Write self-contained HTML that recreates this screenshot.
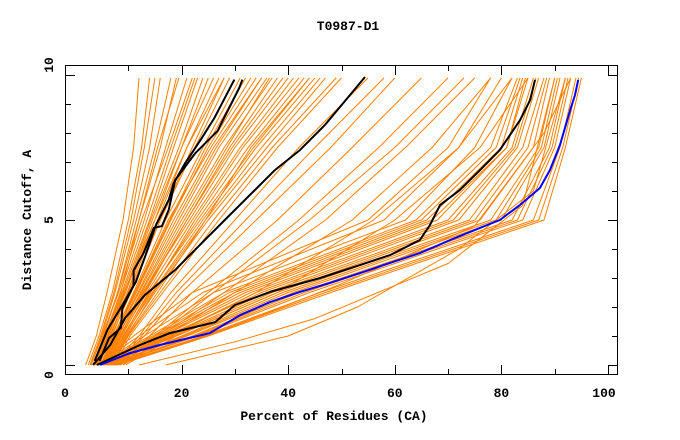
<!DOCTYPE html>
<html><head><meta charset="utf-8">
<style>
html,body{margin:0;padding:0;background:#fff;}
svg{display:block;}
text{font-family:"Liberation Mono","DejaVu Sans Mono",monospace;font-weight:bold;fill:#000;}
</style></head>
<body>
<svg id="chart" width="680" height="440" viewBox="0 0 680 440" xmlns="http://www.w3.org/2000/svg">
<text x="348" y="30" font-size="13" text-anchor="middle">T0987-D1</text>
<text x="334" y="420" font-size="13" text-anchor="middle">Percent of Residues (CA)</text>
<text transform="translate(31,220) rotate(-90)" font-size="13" text-anchor="middle">Distance Cutoff, A</text>
<g id="orange"></g>
<g id="highlight"></g>
<rect x="65.5" y="65.5" width="552" height="309" fill="none" stroke="#000" stroke-width="1"></rect>
<g id="ticks"></g>
</svg>
<script>
// shared y levels (Å) for fan-format orange lines
const levels = [0, 1, 2.5, 5, 7.5, 9.9];
// each row: percent of residues at each level
const orangeLines = [
[2,4,6,9,11,12],[2.5,4.5,7,10,12.5,14],[3,5,7.5,11,14,16],[3,5.2,8,12,16,19],[3.5,5.6,8.5,13,17,21],
[4,6,9,14,18.5,23],[4,6.2,9.5,14.5,20,25],[4.5,6.6,10,15.5,21,27],[4.5,6.8,10.5,16,22.5,29],[5,7.2,11,17,24,31],
[5,7.4,11.5,18,25,33],[5.5,7.8,12,19,26.5,35],[5.5,8,12.5,20,28,37],[6,8.4,13,21,29.5,39],[6,8.6,13.5,22,31,41],
[6.5,9,14,23,32.5,43],[6.5,9.2,14.5,24,34,45],[7,9.6,15,25,36,47],[7,10,16,26,37,49],[3,5.1,8.2,12.5,17.5,22],
[4,6.1,9.2,15,21,28],[5,7.3,11.2,17.5,25.5,34],[6,8.5,12.7,21.5,30,40],[7,9.8,14.7,24.5,35,46],
[2.8,4.8,7.3,10.5,13,15],[3.3,5.4,8,11.5,15,18],[3.8,5.8,8.8,13.5,18,22.5],[4.2,6.3,9.3,14.2,19.5,24],
[4.8,7,10.2,16,22,28],[5.2,7.5,11.3,17.8,24.5,32],[5.8,8.2,12.3,19.5,27,36],[6.2,8.8,13.2,21,29,38],
[6.8,9.4,14.2,22.5,31.5,42],[7.2,9.9,15.5,24.5,33,44],[7.5,10.3,16.5,27,38,50],[3.6,5.7,8.6,12,15.5,19.5],
[5.7,8,12.8,20.5,28.5,36.5],[6.4,9.1,13.8,23.5,33.5,44],[4.3,6.5,9.8,15,20,26],[5.3,7.6,11.8,18.5,26,35],
[7,12,18,30,42,55],[7.5,13,20,34,48,60],[8,14,22,38,52,65],[8,15,25,42,57,70],[8.5,16,28,47,62,75],
[9,17,30,52,67,78],[9,18,34,56,72,82],[9.5,19,38,60,76,85],[7.5,12.5,19,32,45,58],[8.5,15.5,26,44,60,73],
[4,11,22,55,70,78],[4,12,24,58,72,80],[4.5,13,26,62,75,82],[4.5,14,28,64,78,83],
[5,15,30,66,80,84],[5,16,32,68,81,85],[5.5,16.5,33,70,82,86],[5.5,17,35,72,83,87],[6,18,36,74,84,88],
[6,19,38,76,86,89],[6.5,20,39,78,87,90],[6.5,21,41,80,88,91],[7,22,42,82,89,92],[7,23,44,84,90,93],
[7.5,24,46,86,91,94],[8,25,48,88,92,95],[5.2,15.5,31,67,81,84.5],[6.2,18.5,37,75,85,88.5],[7.2,22.5,43,83,89.5,92.5],
[5.8,17.5,34,71,82.5,86.5],[6.8,20.5,40,79,87.5,90.5],[4.8,14.5,29,65,79,83.5],[7.8,24.5,47,87,91.5,94.5]
];
// extra orange lines with explicit points [percent, cutoff]
const extraLines = [
[[17,0],[40,1],[53,2],[72,4],[86,6],[92,9.9]],
[[12,0],[30,0.8],[45,1.6],[70,3.5],[84,5.5],[90,9.9]],
[[8,0],[25,1],[50,2.8],[75,4.8],[88,8],[93,9.9]]
];
// highlighted models
const blueX = [4.7,10.3,15.9,25.3,31,36.6,42.2,47.8,53.5,59.1,64.7,70.4,74.1,79.7,83.5,87.2,89.1,91,92.9,93.8,94.4];
const blueY = [0,0.41,0.69,1.1,1.72,2.17,2.52,2.83,3.17,3.52,3.86,4.31,4.59,5,5.52,6.1,6.72,7.59,8.79,9.31,9.83];
const blackAX = [4.1,12.2,17.8,26.3,30,36.6,46,53.5,59.1,64.7,66.6,68.5,72.2,76,79.7,83.5,85.4,86.3];
const blackAY = [0,0.69,1.1,1.48,2.07,2.52,3,3.45,3.79,4.31,4.83,5.52,6.03,6.72,7.41,8.45,9.14,9.83];
const blackBX = [3.4,6.6,9.4,13.1,18.8,22.5,28.1,32.8,37.5,42.2,46.9,51.6,54.4];
const blackBY = [0,0.69,1.62,2.41,3.28,3.97,5,5.86,6.72,7.41,8.28,9.31,9.93];
const blackCX = [3.7,6.1,8.9,11.4,13.2,15.1,17.6,18.5,20.6,23.7,26.2,29.9];
const blackCY = [0.14,1.22,2.07,2.86,3.77,4.79,5.7,6.26,6.94,7.8,8.53,9.84];
const blackDX = [4.6,6.4,8.6,8.9,11,11,12.9,14.8,16.3,17.6,18.8,22.5,26.8,27.4,30.8,31.4];
const blackDY = [0.14,0.93,1.28,1.95,2.75,3.26,3.88,4.73,4.79,5.36,6.38,7.29,8.08,8.31,9.55,9.84];
const xTicks = [0,10,20,30,40,50,60,70,80,90,100];
const xLabels = ["0","20","40","60","80","100"];
const yTicks = [0,1,2,3,4,5,6,7,8,9,10];
const yLabels = ["0","5","10"];

const NS = "http://www.w3.org/2000/svg";
function xs(v){ return 75 + v * 5.33; }
function ys(v){ return 365 - v * 29; }
function poly(parent, pts, color, w, name){
  const p = document.createElementNS(NS, "polyline");
  p.setAttribute("points", pts.map(q => xs(q[0]).toFixed(1) + "," + ys(q[1]).toFixed(1)).join(" "));
  p.setAttribute("fill", "none");
  p.setAttribute("stroke", color);
  p.setAttribute("stroke-width", w);
  p.setAttribute("stroke-linejoin", "round");
  
  
  parent.appendChild(p);
}
const og = document.getElementById("orange");
orangeLines.forEach(row => poly(og, row.map((x, i) => [x, levels[i]]), "#ff8000", 1, "model-line"));
extraLines.forEach(pts => poly(og, pts, "#ff8000", 1, "model-line"));
const hg = document.getElementById("highlight");
[[blackAX,blackAY,"black-line-a"],[blackBX,blackBY,"black-line-b"],[blackCX,blackCY,"black-line-c"],[blackDX,blackDY,"black-line-d"]].forEach(s => {
  poly(hg, s[0].map((x, i) => [x, s[1][i]]), "#000", 2, s[2]);
});
poly(hg, blueX.map((x, i) => [x, blueY[i]]), "#0000ff", 2, "blue-line");

const tg = document.getElementById("ticks");
function line(x1,y1,x2,y2,name){
  const l = document.createElementNS(NS, "line");
  l.setAttribute("x1", x1); l.setAttribute("y1", y1);
  l.setAttribute("x2", x2); l.setAttribute("y2", y2);
  l.setAttribute("stroke", "#000"); l.setAttribute("stroke-width", 1);
  
  
  tg.appendChild(l);
}
function label(txt, x, y, rot, name){
  const t = document.createElementNS(NS, "text");
  t.setAttribute("font-size", "13");
  t.setAttribute("text-anchor", "middle");
  if (rot) t.setAttribute("transform", "translate(" + x + "," + y + ") rotate(-90)");
  else { t.setAttribute("x", x); t.setAttribute("y", y); }
  t.textContent = txt;
  
  
  tg.appendChild(t);
}
xTicks.forEach(v => {
  if (v === 0) return;
  const x = Math.round(xs(v)) + 0.5;
  const len = v % 20 === 0 ? 10 : 6;
  line(x, 375, x, 375 - len, "x-tick");
  line(x, 65, x, 65 + len, "x-tick-top");
});
xLabels.forEach(s => {
  const v = +s;
  const x = v === 0 ? 65 : (v === 100 ? 604 : xs(v));
  label(s, x, 397, false, "x-tick-label");
});
yTicks.forEach(v => {
  const y = Math.round(ys(v)) + 0.5;
  const len = v % 5 === 0 ? 10 : 6;
  line(65, y, 65 + len, y, "y-tick");
  line(618, y, 618 - len, y, "y-tick-right");
});
yLabels.forEach(s => {
  const v = +s;
  const y = v === 0 ? 375 : (v === 10 ? 65 : ys(v));
  label(s, 53, y, true, "y-tick-label");
});
</script>
</body></html>
